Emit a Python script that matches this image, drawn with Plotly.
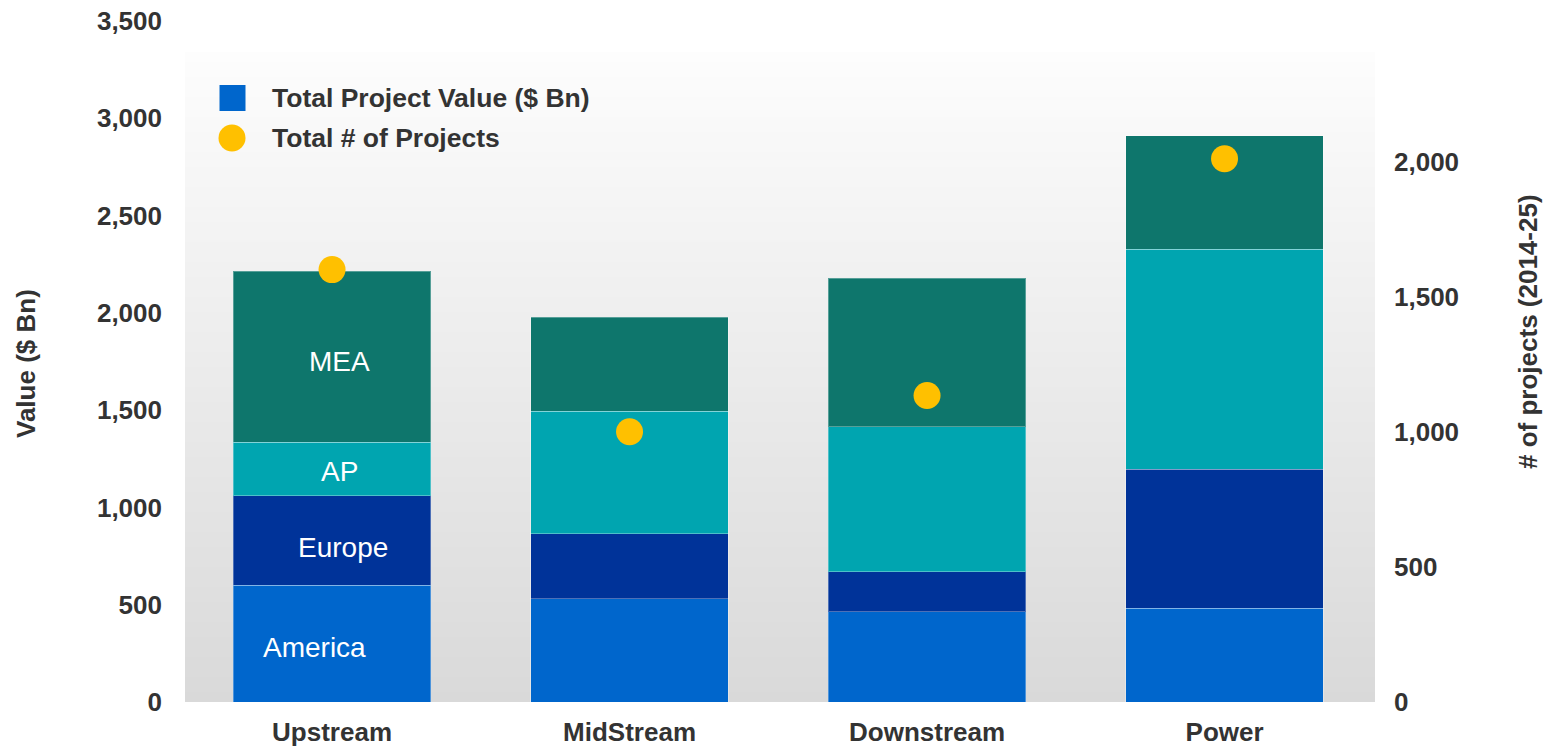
import plotly.graph_objects as go

# ---- data -------------------------------------------------------------
segments = ["Upstream", "MidStream", "Downstream", "Power"]

regions = ["America", "Europe", "AP", "MEA"]
america = [600, 530, 465, 481]
europe = [460, 335, 205, 715]
ap = [275, 630, 745, 1132]
mea = [880, 482, 762, 581]

project_counts = [1600, 1000, 1134, 2010]

value_ticks = [0, 500, 1000, 1500, 2000, 2500, 3000, 3500]
count_ticks = [0, 500, 1000, 1500, 2000]

# ---- style --------------------------------------------------------------
region_colors = {
    "America": "#0066CC",
    "Europe": "#003399",
    "AP": "#00A5B0",
    "MEA": "#0E766C",
}
dot_color = "#FFC000"
text_color = "#333333"
FONT = "Liberation Sans, Arial, sans-serif"

W, H = 1553, 748
L, R, T, B = 185, 1375, 21, 702  # plot area in pixels


def px(x):
    return (x - L) / (R - L)


def py(y):
    return (B - y) / (B - T)


tick_font = dict(size=26, color=text_color, family=FONT, weight="bold")

fig = go.Figure()

for name, vals in zip(regions, [america, europe, ap, mea]):
    fig.add_trace(go.Bar(
        x=segments, y=vals, name=name,
        marker=dict(color=region_colors[name],
                    line=dict(color="rgba(255,255,255,0.3)", width=1)),
        showlegend=False, hoverinfo="x+y+name",
    ))

fig.add_trace(go.Scatter(
    x=segments, y=project_counts, yaxis="y2", mode="markers",
    name="Total # of Projects",
    marker=dict(color=dot_color, size=27, line=dict(width=0)),
    showlegend=False,
))

# vertical gradient behind the bars (white at top to light grey at bottom)
shapes = []
g_top, g_bot = 52, 702
n = 130
c_top, c_bot = 253, 217
for i in range(n):
    y0 = g_top + (g_bot - g_top) * i / n
    y1 = g_top + (g_bot - g_top) * (i + 1) / n
    f = (i + 0.5) / n
    c = round(c_top + (c_bot - c_top) * f)
    shapes.append(dict(
        type="rect", xref="paper", yref="paper", layer="below",
        x0=0, x1=1, y0=max(py(y1 + 0.6), 0), y1=py(y0),
        fillcolor=f"rgb({c},{c},{c})", line=dict(width=0),
    ))

# legend swatches
shapes.append(dict(type="rect", xref="paper", yref="paper",
                   x0=px(219.5), x1=px(245.5), y0=py(111), y1=py(85),
                   fillcolor=region_colors["America"], line=dict(width=0)))
shapes.append(dict(type="circle", xref="paper", yref="paper",
                   x0=px(218.5), x1=px(245.5), y0=py(151.5), y1=py(124.5),
                   fillcolor=dot_color, line=dict(width=0)))

legend_font = dict(size=26.5, color=text_color, family=FONT)
annotations = [
    dict(text="<b>Total Project Value ($ Bn)</b>", x=px(270), y=py(98),
         xref="paper", yref="paper", xanchor="left", yanchor="middle",
         showarrow=False, font=legend_font),
    dict(text="<b>Total # of Projects</b>", x=px(270), y=py(138),
         xref="paper", yref="paper", xanchor="left", yanchor="middle",
         showarrow=False, font=legend_font),
    dict(text="<b>Value ($ Bn)</b>", x=px(26), y=py(364), textangle=-90,
         xref="paper", yref="paper", xanchor="center", yanchor="middle",
         showarrow=False, font=dict(size=26, color=text_color, family=FONT)),
    dict(text="<b># of projects (2014-25)</b>", x=px(1528), y=py(332),
         textangle=-90, xref="paper", yref="paper", xanchor="center",
         yanchor="middle", showarrow=False,
         font=dict(size=26, color=text_color, family=FONT)),
]

# region names inside the first column
region_label_pos = {"MEA": (1750, 7), "AP": (1186, 7),
                    "Europe": (795, 11), "America": (280, -18)}
for name, (yv, dx) in region_label_pos.items():
    annotations.append(dict(
        text=name, x=segments[0], y=yv, xref="x", yref="y", xshift=dx,
        showarrow=False, xanchor="center", yanchor="middle",
        font=dict(size=28, color="white", family=FONT),
    ))

x_shift = 1.7 / 297.5  # small offset of the category band
fig.update_layout(
    width=W, height=H,
    margin=dict(l=L, r=W - R, t=T, b=H - B, pad=0, autoexpand=False),
    paper_bgcolor="white", plot_bgcolor="rgba(0,0,0,0)",
    barmode="stack", bargap=0.335,
    font=dict(family=FONT, color=text_color),
    showlegend=False,
    shapes=shapes, annotations=annotations,
    xaxis=dict(
        range=[-0.5 + x_shift, 3.5 + x_shift],
        showgrid=False, zeroline=False, showline=False, automargin=False,
        tickfont=tick_font, ticklabelstandoff=12,
    ),
    yaxis=dict(
        range=[0, 3500], tickvals=value_ticks, tickformat=",d",
        showgrid=False, zeroline=False, showline=False, automargin=False,
        tickfont=tick_font, ticklabelstandoff=22,
    ),
    yaxis2=dict(
        range=[0, 2520], tickvals=count_ticks, tickformat=",d",
        overlaying="y", side="right", automargin=False,
        showgrid=False, zeroline=False, showline=False,
        tickfont=tick_font, ticklabelstandoff=18,
    ),
)

fig.write_html("out.html")
